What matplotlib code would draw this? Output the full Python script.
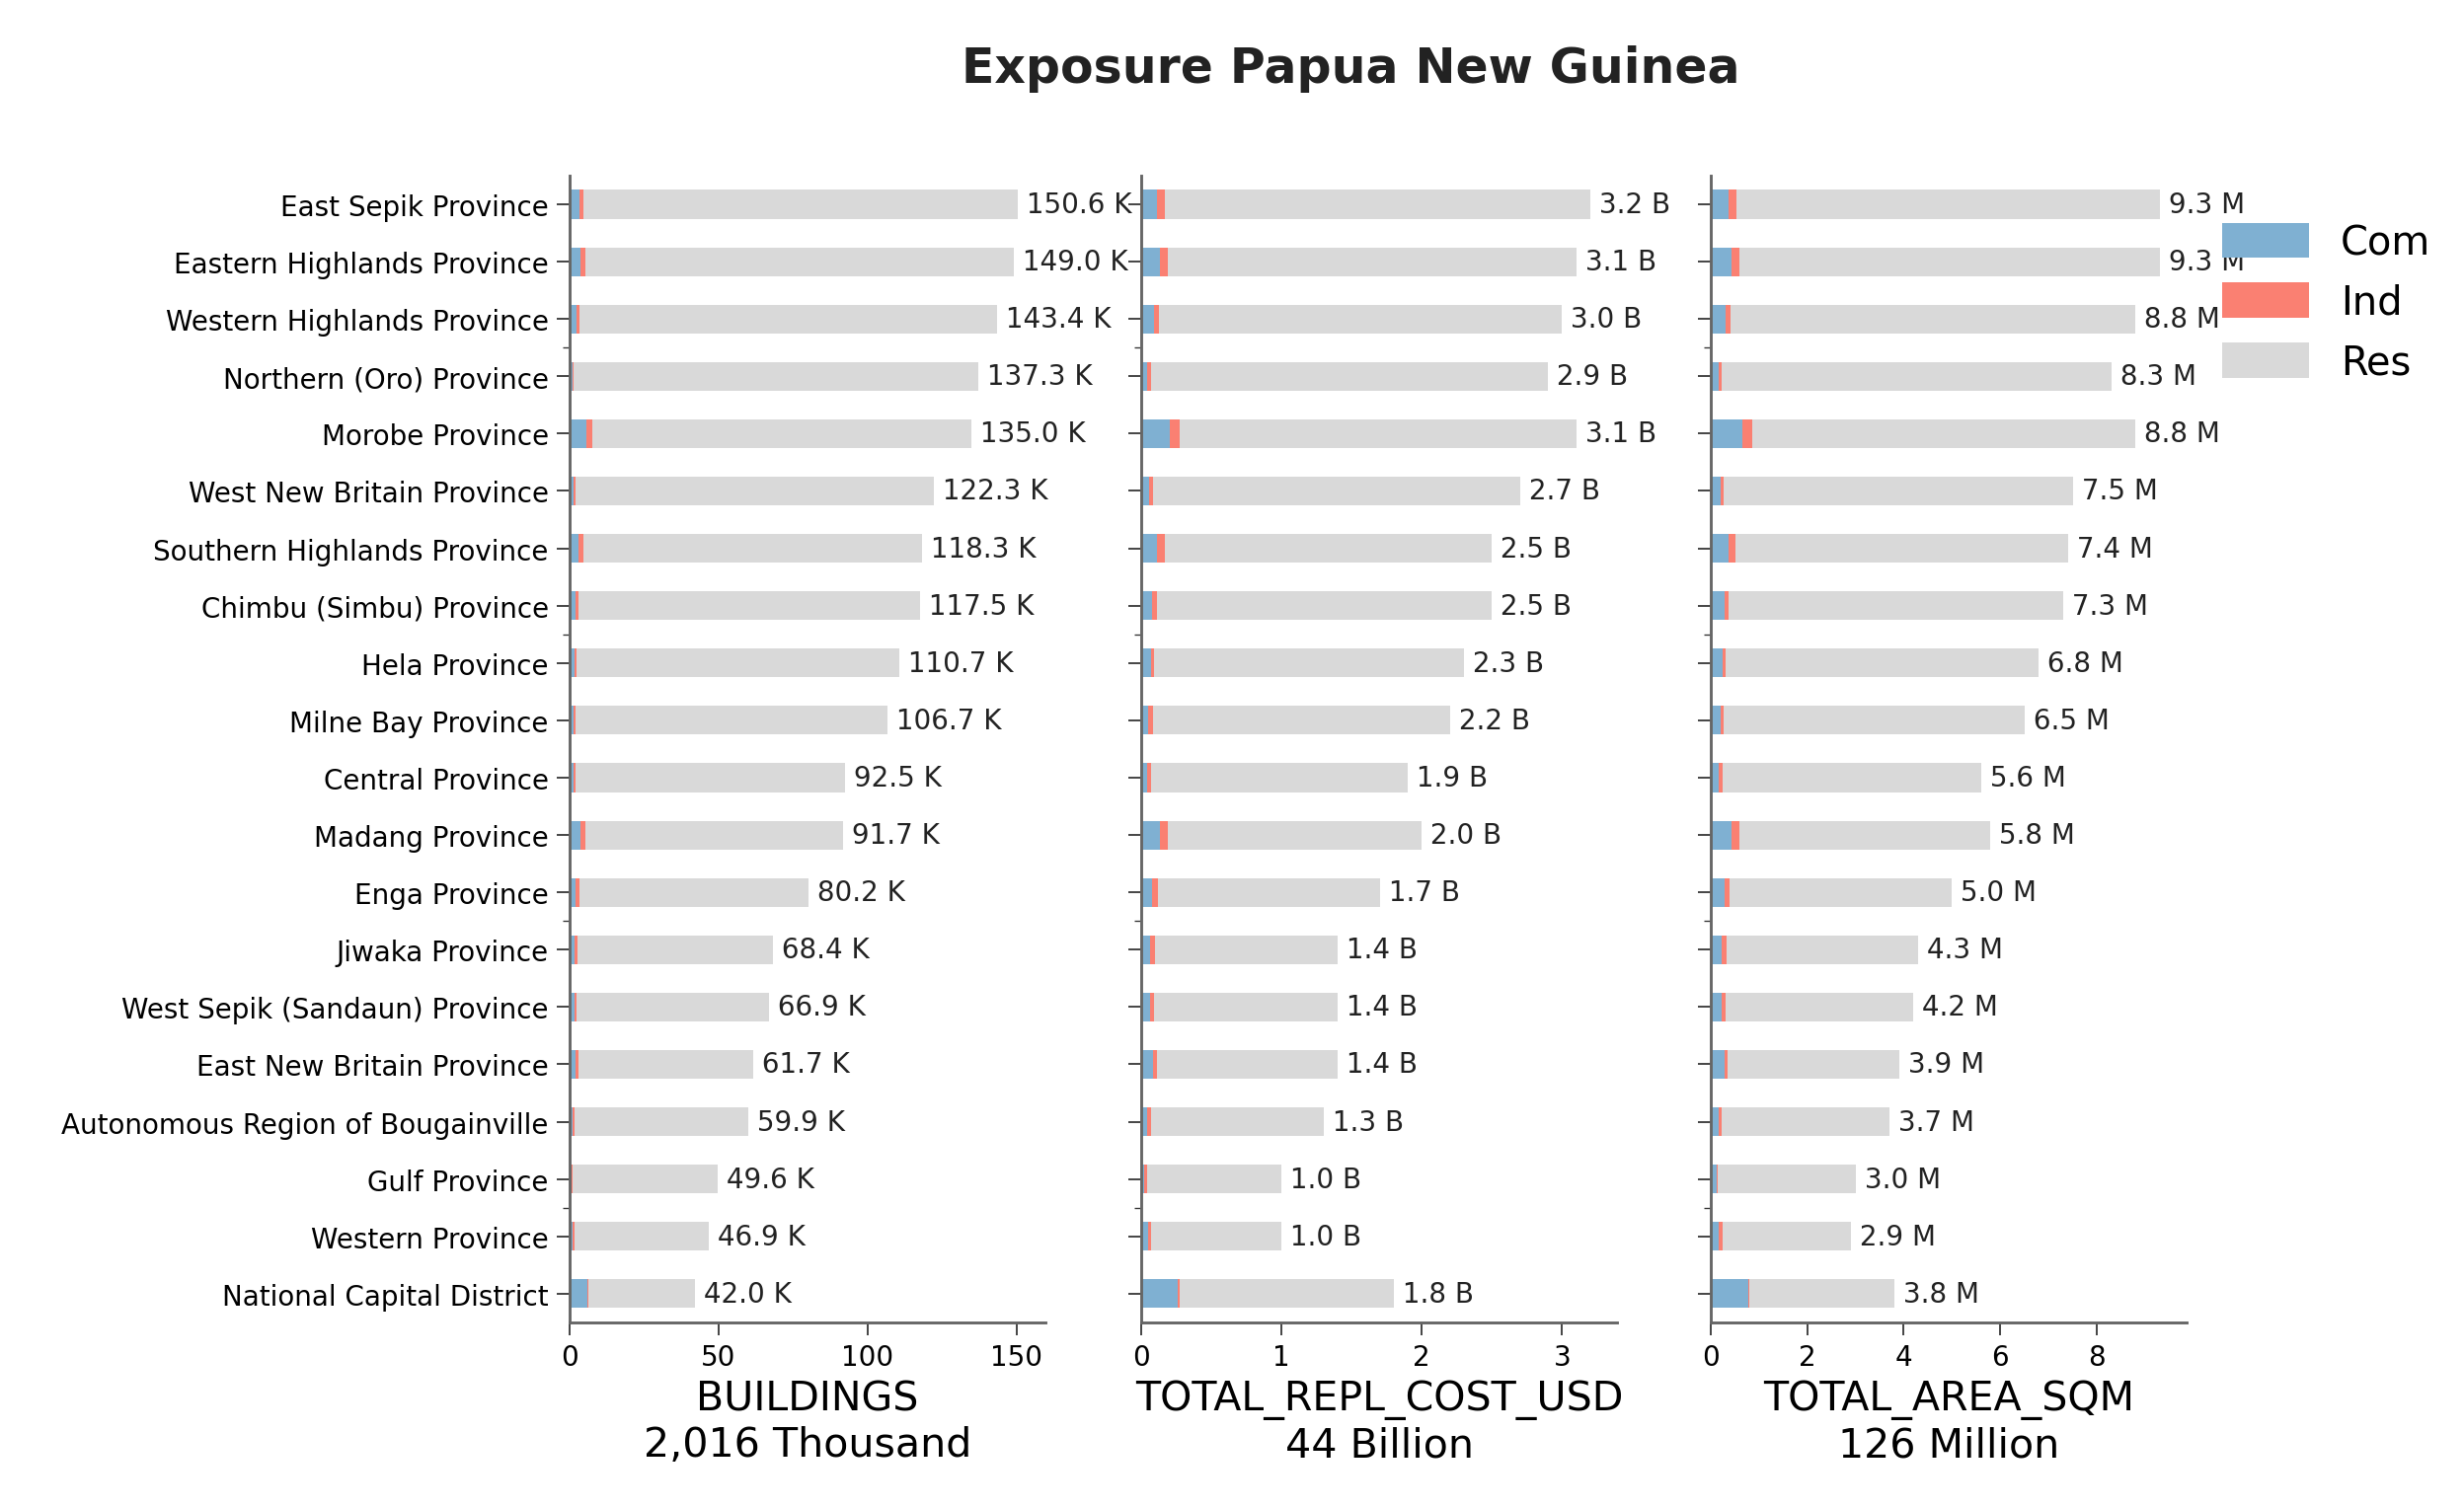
import matplotlib
matplotlib.use("Agg")
import matplotlib.pyplot as plt
import numpy as np
from matplotlib.ticker import FixedLocator

provinces = ["East Sepik Province", "Eastern Highlands Province", "Western Highlands Province",
             "Northern (Oro) Province", "Morobe Province", "West New Britain Province",
             "Southern Highlands Province", "Chimbu (Simbu) Province", "Hela Province",
             "Milne Bay Province", "Central Province", "Madang Province", "Enga Province",
             "Jiwaka Province", "West Sepik (Sandaun) Province", "East New Britain Province",
             "Autonomous Region of Bougainville", "Gulf Province", "Western Province",
             "National Capital District"]

# buildings, thousands
bld_total = [150.6, 149.0, 143.4, 137.3, 135.0, 122.3, 118.3, 117.5, 110.7, 106.7,
             92.5, 91.7, 80.2, 68.4, 66.9, 61.7, 59.9, 49.6, 46.9, 42.0]
bld_com = [3.4, 3.7, 2.4, 1.0, 5.8, 1.5, 3.0, 2.2, 1.8, 1.5, 1.5, 3.7, 2.2, 1.8, 1.8, 2.2, 1.2, 0.7, 1.2, 6.0]
bld_ind = [1.3, 1.8, 1.0, 0.4, 1.9, 0.5, 1.8, 0.9, 0.6, 0.5, 0.6, 1.8, 1.2, 0.9, 0.6, 0.9, 0.5, 0.4, 0.5, 0.3]

# replacement cost, billions USD
cost_total = [3.2, 3.1, 3.0, 2.9, 3.1, 2.7, 2.5, 2.5, 2.3, 2.2, 1.9, 2.0, 1.7, 1.4, 1.4, 1.4, 1.3, 1.0, 1.0, 1.8]
cost_com = [0.115, 0.13, 0.09, 0.045, 0.206, 0.054, 0.115, 0.077, 0.068, 0.05,
            0.045, 0.13, 0.077, 0.06, 0.06, 0.082, 0.04, 0.023, 0.05, 0.26]
cost_ind = [0.05, 0.056, 0.035, 0.023, 0.07, 0.028, 0.05, 0.037, 0.026, 0.033,
            0.028, 0.056, 0.042, 0.037, 0.028, 0.033, 0.028, 0.016, 0.021, 0.014]

# area, million sqm
area_total = [9.3, 9.3, 8.8, 8.3, 8.8, 7.5, 7.4, 7.3, 6.8, 6.5, 5.6, 5.8, 5.0, 4.3, 4.2, 3.9, 3.7, 3.0, 2.9, 3.8]
area_com = [0.38, 0.44, 0.3, 0.17, 0.65, 0.2, 0.38, 0.28, 0.25, 0.2, 0.16, 0.44, 0.28, 0.22, 0.22, 0.28, 0.16, 0.12, 0.17, 0.78]
area_ind = [0.16, 0.16, 0.11, 0.05, 0.22, 0.075, 0.14, 0.1, 0.055, 0.075, 0.08, 0.16, 0.12, 0.1, 0.08, 0.08, 0.06, 0.035, 0.07, 0.03]

panels = [
    ("BUILDINGS\n2,016 Thousand", bld_total, bld_com, bld_ind, "K"),
    ("TOTAL_REPL_COST_USD\n44 Billion", cost_total, cost_com, cost_ind, "B"),
    ("TOTAL_AREA_SQM\n126 Million", area_total, area_com, area_ind, "M"),
]

c_com, c_ind, c_res = "#7fb0d2", "#fa8072", "#d9d9d9"

fig = plt.figure(figsize=(15.606, 9.556), dpi=160)
lefts = [0.231, 0.463, 0.694]
y = np.arange(len(provinces))
for i, (label, tot, com, ind, unit) in enumerate(panels):
    ax = fig.add_axes([lefts[i], 0.123, 0.193, 0.76])
    tot = np.array(tot); com = np.array(com); ind = np.array(ind)
    res = tot - com - ind
    ax.barh(y, com, height=0.5, color=c_com, label="Com")
    ax.barh(y, ind, left=com, height=0.5, color=c_ind, label="Ind")
    ax.barh(y, res, left=com + ind, height=0.5, color=c_res, label="Res")
    for yy, t in zip(y, tot):
        ax.text(t, yy, f" {t:.1f} {unit}", va="center", ha="left", fontsize=12.5, color="#222222")
    ax.set_ylim(len(provinces) - 0.5, -0.5)
    ax.set_xlim(0, max(tot) * 1.06)
    ax.set_yticks(y)
    ax.set_yticklabels(provinces if i == 0 else [], fontsize=12.5)
    ax.yaxis.set_minor_locator(FixedLocator([2.5, 7.5, 12.5, 17.5]))
    ax.tick_params(axis="y", which="major", length=6, color="#333333")
    ax.tick_params(axis="y", which="minor", length=3, color="#333333")
    ax.tick_params(axis="x", labelsize=12.5, length=6, color="#333333")
    ax.set_xlabel(label, fontsize=18.5)
    for s in ["top", "right"]:
        ax.spines[s].set_visible(False)
    for s in ["left", "bottom"]:
        ax.spines[s].set_color("#666666")
        ax.spines[s].set_linewidth(1.3)
    if i == 2:
        ax.legend(loc="upper left", bbox_to_anchor=(1.0, 0.99), frameon=False,
                  fontsize=18, handlelength=2.2, handleheight=1.0)

fig.suptitle("Exposure Papua New Guinea", fontsize=22, fontweight="bold", color="#222222",
             x=0.548, y=0.97)
fig.savefig("out.png", dpi=160)
